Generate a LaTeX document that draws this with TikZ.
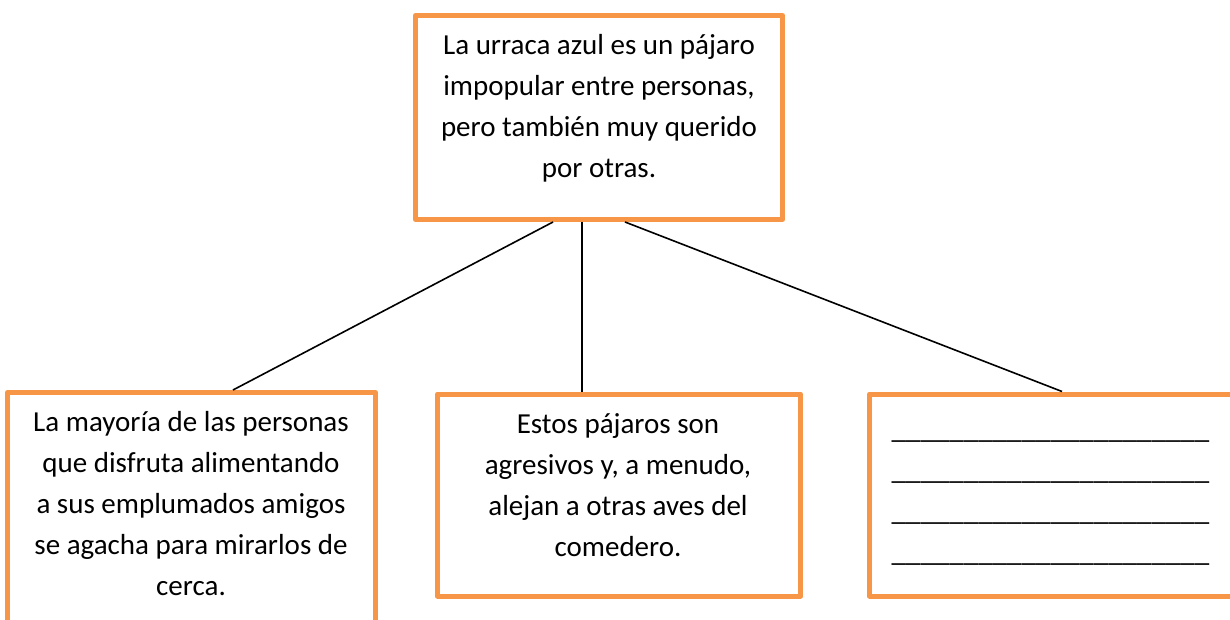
\documentclass[tikz,border=0pt]{standalone}
\usepackage{fontspec}
\setmainfont{Carlito}
\definecolor{boxorange}{HTML}{F79646}
\begin{document}
\begin{tikzpicture}[x=1pt,y=-1pt,
  box/.style={draw=boxorange,line width=5pt,line join=round,rectangle,inner sep=0pt,fill=none},
  txt/.style={anchor=base,align=center,inner sep=0pt,font=\fontsize{29}{41}\selectfont},
  link/.style={draw=black,line width=1.6pt}]
\useasboundingbox (0,0) rectangle (1230,620);
\clip (0,0) rectangle (1230,620);
\fill[white] (0,0) rectangle (1230,620);
% boxes
\node[box,minimum width=367pt,minimum height=204pt] (top) at (599,117.5) {};
\node[box,minimum width=368pt,minimum height=250pt] (left) at (191.5,517.5) {};
\node[box,minimum width=363pt,minimum height=202pt] (mid) at (619,495) {};
\node[box,minimum width=380pt,minimum height=202pt] (right) at (1059.5,495) {};
% connectors
\draw[link] (top.south -| 553,0) -- (left.north -| 233,0);
\draw[link] (top.south -| 582,0) -- (mid.north -| 582,0);
\draw[link] (top.south -| 625,0) -- (right.north -| 1062,0);
% texts (base anchor = baseline of the last line)
\node[txt] (ttop) at (599,178) {La urraca azul es un pájaro\\impopular entre personas,\\pero también muy querido\\por otras.};
\node[txt] (tleft) at (191,595) {La mayoría de las personas\\que disfruta alimentando\\a sus emplumados amigos\\se agacha para mirarlos de\\cerca.};
\node[txt] (tmid) at (618,556) {Estos pájaros son\\agresivos y, a menudo,\\alejan a otras aves del\\comedero.};
\node[txt] (tright) at (1050.5,561) {\_\_\_\_\_\_\_\_\_\_\_\_\_\_\_\_\_\_\_\_\_\_\\\_\_\_\_\_\_\_\_\_\_\_\_\_\_\_\_\_\_\_\_\_\_\\\_\_\_\_\_\_\_\_\_\_\_\_\_\_\_\_\_\_\_\_\_\_\\\_\_\_\_\_\_\_\_\_\_\_\_\_\_\_\_\_\_\_\_\_\_};
\end{tikzpicture}
\end{document}
